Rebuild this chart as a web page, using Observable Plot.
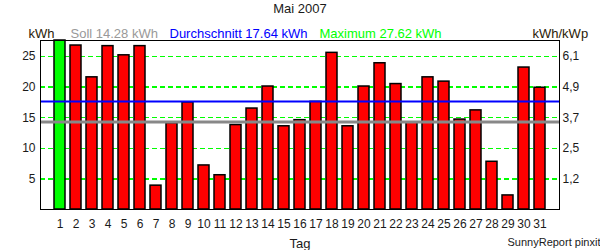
<!DOCTYPE html>
<html>
<head>
<meta charset="utf-8">
<script src="https://cdn.jsdelivr.net/npm/d3@7"></script>
<script src="https://cdn.jsdelivr.net/npm/@observablehq/plot@0.6"></script>
<style>
  html, body { margin: 0; padding: 0; background: #fff; }
  #chart { width: 600px; height: 250px; }
</style>
</head>
<body>
<div id="chart"></div>
<script>
const days = d3.range(1, 32);
const kwh = [27.62, 26.8, 21.6, 26.7, 25.2, 26.7, 3.9, 14.1, 17.5, 7.2,
             5.6, 13.8, 16.5, 20.1, 13.6, 14.6, 17.6, 25.6, 13.6, 20.1,
             23.9, 20.5, 14.2, 21.6, 20.9, 14.7, 16.2, 7.8, 2.3, 23.2, 19.9];
const gridTicks = [5, 10, 15, 20, 25];
const kwpLabels = ["1,2", "2,5", "3,7", "4,9", "6,1"];
const soll = 14.28;
const avg = 17.64;
const maxVal = 27.62;
const title = "Mai 2007";
const headerTexts = ["kWh", "Soll 14.28 kWh", "Durchschnitt 17.64 kWh", "Maximum 27.62 kWh", "kWh/kWp"];
const headerColors = ["#2a1a05", "#999999", "#0000ff", "#00ff00", "#2a1a05"];
const headerLeft = [28, 70, 169, 319, 532];

const data = days.map((d, i) => ({day: d, value: kwh[i]}));
const textColor = "#1a1a1a";

const chart = Plot.plot({
  width: 600,
  height: 250,
  marginTop: 40,
  marginLeft: 40,
  marginRight: 41,
  marginBottom: 41,
  style: {fontFamily: "'Liberation Sans', Arial, sans-serif", fontSize: "12px", color: textColor, background: "white"},
  x: {type: "band", domain: days, padding: 0.33, label: null},
  y: {domain: [0, maxVal], label: null},
  marks: [
    Plot.ruleY(gridTicks, {stroke: "#00ff00", strokeDasharray: "5,3", strokeWidth: 1.5, shapeRendering: "crispEdges"}),
    Plot.barY(data, {x: "day", y: "value", fill: d => d.value === maxVal ? "#00ff00" : "#ff0000", stroke: "black", strokeWidth: 1.5}),
    Plot.ruleY([avg], {stroke: "#0000ff", strokeWidth: 2}),
    Plot.ruleY([soll], {stroke: "#888888", strokeWidth: 3}),
    Plot.frame({stroke: "black", strokeWidth: 1}),
    Plot.axisY({anchor: "left", ticks: gridTicks, tickSize: 0, tickPadding: 5, label: null, fill: textColor}),
    Plot.axisY({anchor: "right", ticks: gridTicks, tickSize: 0, tickPadding: 3, label: null, fill: textColor,
      tickFormat: v => kwpLabels[gridTicks.indexOf(v)]}),
    Plot.axisX({anchor: "bottom", tickSize: 0, tickPadding: 10, label: null, fill: textColor}),
    Plot.text([title], {frameAnchor: "top", lineAnchor: "middle", dy: -32, fill: textColor, fontSize: 13}),
    ...headerTexts.map((t, i) => Plot.text([t], {frameAnchor: "top-left", textAnchor: "start", lineAnchor: "middle", dx: headerLeft[i] - 40, dy: -7, fill: headerColors[i], fontSize: 13})),
    Plot.text(["Tag"], {frameAnchor: "bottom", lineAnchor: "middle", dy: 34, fill: textColor, fontSize: 13}),
    Plot.text(["SunnyReport pinxit"], {frameAnchor: "bottom-left", textAnchor: "start", lineAnchor: "middle", dx: 467, dy: 33, fill: textColor, fontSize: 11})
  ]
});
document.getElementById("chart").appendChild(chart);
</script>
</body>
</html>
